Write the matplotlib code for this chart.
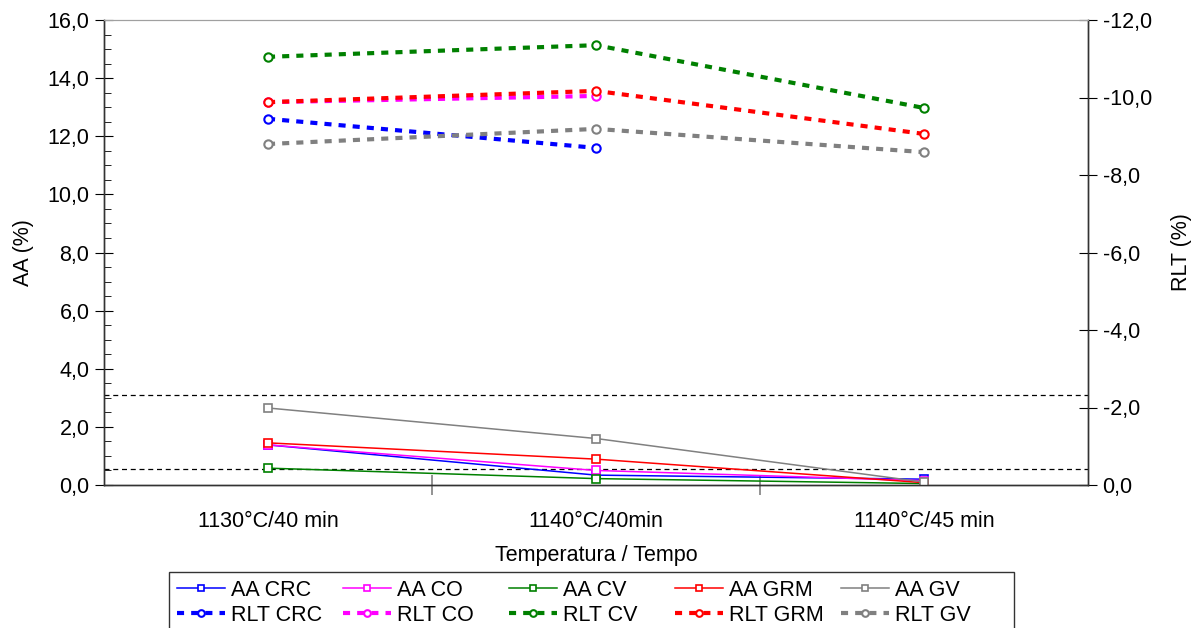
import matplotlib
matplotlib.use("Agg")
import matplotlib.pyplot as plt
from matplotlib.ticker import FuncFormatter, FixedLocator, MultipleLocator

plt.rcParams['font.family'] = ['Liberation Sans', 'DejaVu Sans']

categories = ["1130°C/40 min", "1140°C/40min", "1140°C/45 min"]
series = ["CRC", "CO", "CV", "GRM", "GV"]
colors = ["#0000FF", "#FF00FF", "#008000", "#FF0000", "#808080"]

aa_crc = [1.38, 0.34, 0.20]
aa_co = [1.38, 0.50, 0.15]
aa_cv = [0.58, 0.22, 0.05]
aa_grm = [1.45, 0.89, 0.08]
aa_gv = [2.65, 1.60, 0.10]

rlt_crc = [-9.45, -8.70, None]
rlt_co = [-9.88, -10.04, None]
rlt_cv = [-11.05, -11.35, -9.73]
rlt_grm = [-9.88, -10.17, -9.06]
rlt_gv = [-8.80, -9.19, -8.59]

limit_lines = [3.1, 0.55]

aa_all = [aa_crc, aa_co, aa_cv, aa_grm, aa_gv]
rlt_all = [rlt_crc, rlt_co, rlt_cv, rlt_grm, rlt_gv]

FS = 15.5

fig = plt.figure(figsize=(11.95, 6.28), dpi=100)
ax = fig.add_axes([104/1195, (628-485)/628, (1088-104)/1195, (485-20)/628])
ax2 = ax.twinx()

x = [i + 0.5 for i in range(len(categories))]

aa_handles = []
rlt_handles = []
for name, c, aa, rl in zip(series, colors, aa_all, rlt_all):
    h, = ax.plot(x, aa, color=c, lw=1.1, marker='s', ms=6, mfc='white',
                 mec=c, mew=1.2, label="AA " + name, zorder=3)
    aa_handles.append(h)
    xs = [xi for xi, v in zip(x, rl) if v is not None]
    vs = [v for v in rl if v is not None]
    h2, = ax2.plot(xs, vs, color=c, lw=3, linestyle=(0, (1.7, 1.7)),
                   marker='o', ms=6, mfc='white', mec=c, mew=1.5,
                   label="RLT " + name, zorder=3)
    rlt_handles.append(h2)

for yv in limit_lines:
    ax.axhline(yv, color='black', lw=0.9, linestyle=(0, (4, 3)), zorder=2)

ax.set_xlim(0, 3)
ax.set_ylim(0, 16)
ax.set_yticks(range(0, 17, 2))
ax.yaxis.set_minor_locator(MultipleLocator(0.5))
ax2.set_ylim(0, -12)
ax2.set_yticks(range(0, -13, -2))

fmt = FuncFormatter(lambda v, p: ("%.1f" % v).replace(".", ","))
ax.yaxis.set_major_formatter(fmt)
ax2.yaxis.set_major_formatter(fmt)

ax.set_xticks(x)
ax.set_xticklabels(categories, fontsize=FS)
ax.tick_params(axis='x', which='major', length=0, pad=19)
ax.xaxis.set_minor_locator(FixedLocator([1, 2]))
ax.tick_params(axis='x', which='minor', length=14, direction='inout', color='#808080', width=1.2)
ax.tick_params(axis='y', which='major', labelsize=FS, direction='inout', length=13, pad=4)
ax.tick_params(axis='y', which='minor', direction='in', length=5)
ax2.tick_params(axis='y', which='major', labelsize=FS, direction='inout', length=13, pad=4)

for a in (ax, ax2):
    a.spines['top'].set_color('#A0A0A0')
    for s in ('left', 'right', 'bottom'):
        a.spines[s].set_color('#333333')
        a.spines[s].set_linewidth(1.0)

ax.set_ylabel("AA (%)", fontsize=FS, labelpad=10)
ax2.set_ylabel("RLT (%)", fontsize=FS, labelpad=14)
ax.set_xlabel("Temperatura / Tempo", fontsize=FS, labelpad=9)

handles = []
for a, r in zip(aa_handles, rlt_handles):
    handles += [a, r]
leg = fig.legend(handles=handles, labels=[h.get_label() for h in handles],
                 ncol=5, loc='upper left', bbox_to_anchor=(169/1195, 1 - 572/628),
                 fontsize=FS, frameon=True, fancybox=False, edgecolor='black',
                 handlelength=2.25, handletextpad=0.3, columnspacing=0.76,
                 borderpad=0.35, labelspacing=0.2, borderaxespad=0,
                 markerscale=0.8)
leg._legend_handle_box.mode = "equal"
leg.get_frame().set_linewidth(1.0)

fig.savefig("out.png", dpi=100)
